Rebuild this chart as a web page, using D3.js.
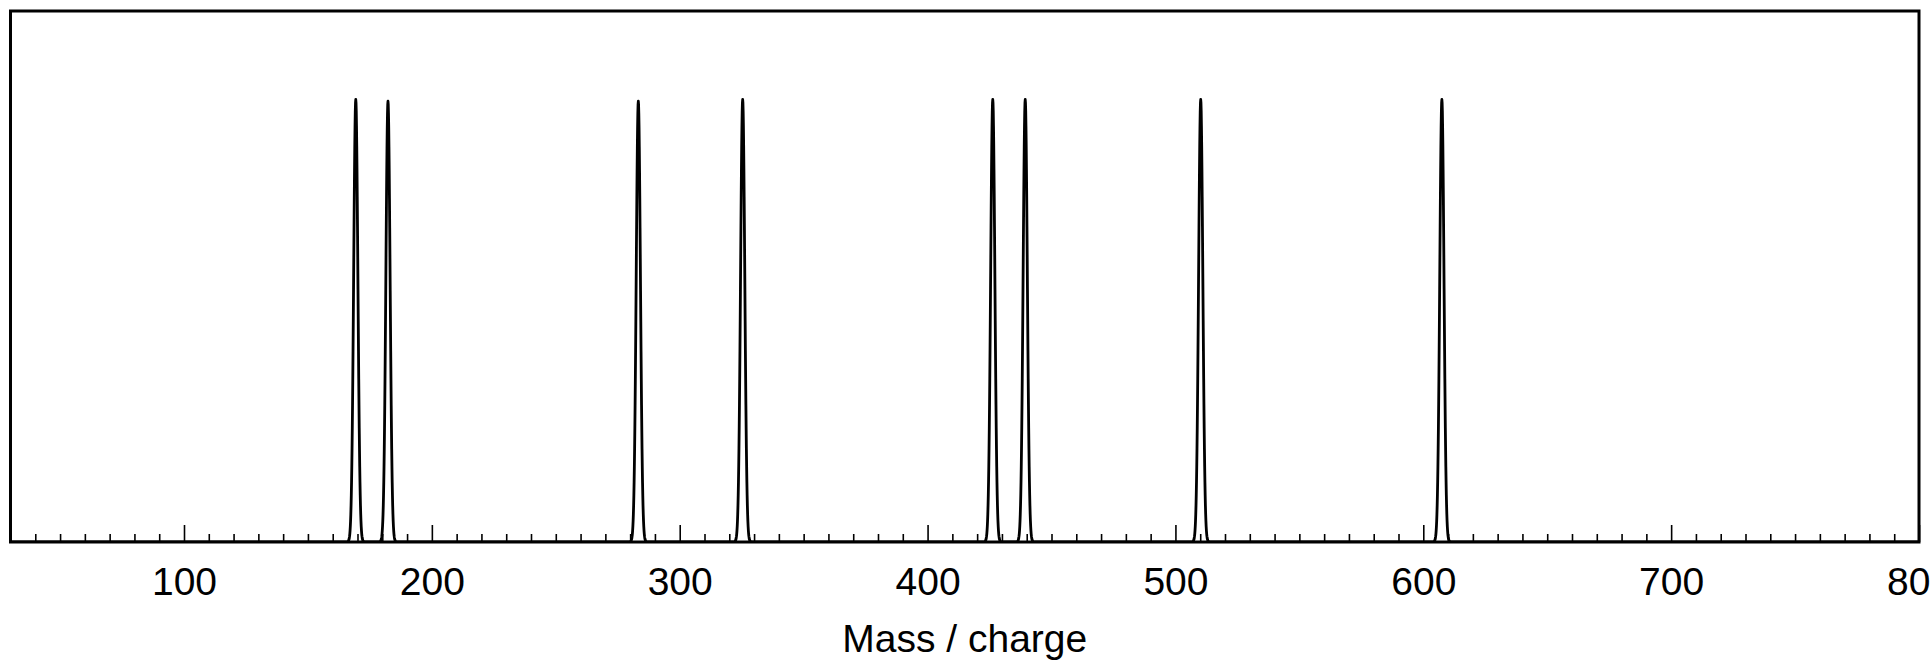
<!DOCTYPE html>
<html>
<head>
<meta charset="utf-8">
<script src="https://cdn.jsdelivr.net/npm/d3@7"></script>
<style>
  body { margin: 0; background: #fff; }
  svg { display: block; }
  text { font-family: "Liberation Sans", Arial, Helvetica, sans-serif; fill: #000; }
</style>
</head>
<body>
<div id="chart"></div>
<script>
// Peak list (m/z centre, relative intensity)
const peakMz = [169.3, 182.3, 283.3, 325.4, 426.3, 439.4, 510.2, 607.5];
const peakHeight = [1.0, 0.996, 0.996, 1.0, 1.0, 1.0, 1.0, 1.0];
const peakSigma = 0.85; // peak width (m/z units)

const xDomain = [30, 800];
const yDomain = [0, 1.2];
const majorTicks = [100, 200, 300, 400, 500, 600, 700, 800];
const minorTicks = d3.range(40, 800, 10).filter(v => v % 100 !== 0);
const xLabel = 'Mass / charge';

const width = 1931, height = 663;
const margin = { top: 11, right: 12, bottom: 121, left: 10.5 };

const svg = d3.select('#chart')
    .append('svg')
    .attr('width', width)
    .attr('height', height);

const xScale = d3.scaleLinear()
    .domain(xDomain)
    .range([margin.left, width - margin.right]);

const yScale = d3.scaleLinear()
    .domain(yDomain)
    .range([height - margin.bottom, margin.top]);

// spectrum profile: each peak rendered as a gaussian line shape
const grid = d3.range(xDomain[0], xDomain[1] + 0.001, 0.1);
const spectrum = grid.map(mz => {
    let v = 0;
    peakMz.forEach((c, i) => {
        const d = (mz - c) / peakSigma;
        if (Math.abs(d) < 8) v += peakHeight[i] * Math.exp(-0.5 * d * d);
    });
    return [mz, v];
});

svg.append('defs')
    .append('clipPath')
    .attr('id', 'clip')
    .append('rect')
    .attr('x', margin.left)
    .attr('y', margin.top)
    .attr('width', xScale.range()[1] - margin.left)
    .attr('height', yScale.range()[0] - margin.top);

svg.append('path')
    .datum(spectrum)
    .attr('clip-path', 'url(#clip)')
    .attr('fill', 'none')
    .attr('stroke', '#000')
    .attr('stroke-width', 2.8)
    .attr('stroke-linejoin', 'round')
    .attr('d', d3.line().x(d => xScale(d[0])).y(d => yScale(d[1])));

// bottom axis: ticks point inward
const gMinor = svg.append('g')
    .attr('transform', `translate(0, ${yScale(0)})`)
    .call(d3.axisBottom(xScale).tickValues(minorTicks).tickSize(-8).tickFormat(''));
gMinor.select('.domain').remove();
gMinor.selectAll('.tick line').attr('stroke', '#000').attr('stroke-width', 1.6);

const gMajor = svg.append('g')
    .attr('transform', `translate(0, ${yScale(0)})`)
    .call(d3.axisBottom(xScale).tickValues(majorTicks).tickSize(-17).tickPadding(0));
gMajor.select('.domain').remove();
gMajor.selectAll('.tick line').attr('stroke', '#000').attr('stroke-width', 1.6);
gMajor.selectAll('.tick text')
    .attr('y', 53)
    .attr('dy', 0)
    .style('font-size', '39px')
    .style('font-family', '"Liberation Sans", Arial, sans-serif')
    .attr('fill', '#000');

// frame
svg.append('rect')
    .attr('x', margin.left)
    .attr('y', margin.top)
    .attr('width', xScale.range()[1] - margin.left)
    .attr('height', yScale.range()[0] - margin.top)
    .attr('fill', 'none')
    .attr('stroke', '#000')
    .attr('stroke-width', 3);

svg.append('text')
    .attr('x', (xScale.range()[0] + xScale.range()[1]) / 2)
    .attr('y', 652)
    .attr('text-anchor', 'middle')
    .style('font-size', '39px')
    .text(xLabel);
</script>
</body>
</html>
